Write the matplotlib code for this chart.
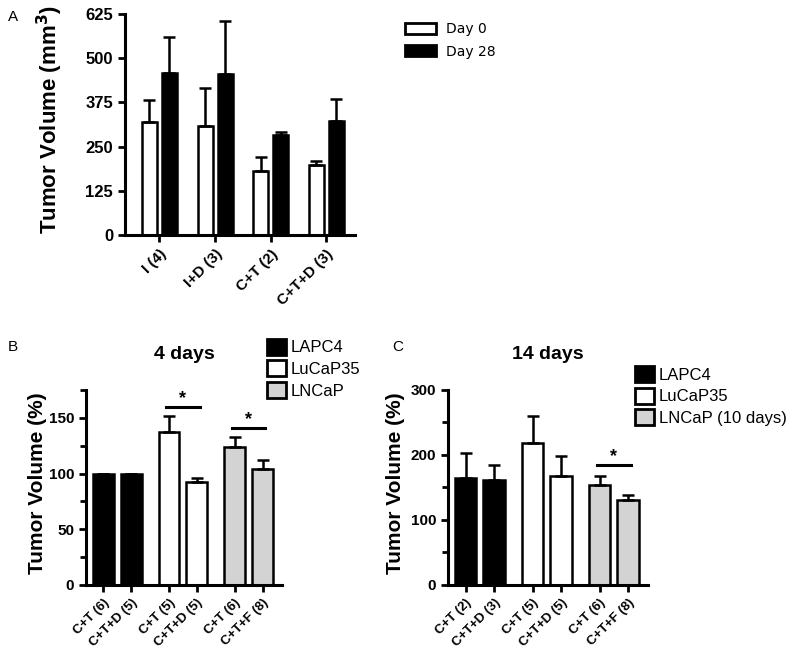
import matplotlib
matplotlib.use("Agg")
import matplotlib.pyplot as plt
import numpy as np
from matplotlib.patches import Patch
from matplotlib.ticker import MultipleLocator

plt.rcParams['font.family'] = ['Liberation Sans', 'DejaVu Sans']

# panel A data
a_groups = ["I (4)", "I+D (3)", "C+T (2)", "C+T+D (3)"]
a_day0 = [320, 308, 182, 199]
a_day0_err = [61, 109, 38, 9]
a_day28 = [457, 455, 284, 323]
a_day28_err = [102, 151, 8, 62]

# panel B data (4 days)
b_labels = ["C+T (6)", "C+T+D (5)", "C+T (5)", "C+T+D (5)", "C+T (6)", "C+T+F (8)"]
b_values = [100, 100, 137, 92, 124, 104.5]
b_err = [0, 0, 15, 4, 8.5, 7.5]

# panel C data (14 days)
c_labels = ["C+T (2)", "C+T+D (3)", "C+T (5)", "C+T+D (5)", "C+T (6)", "C+T+F (8)"]
c_values = [164, 162, 218, 167, 154, 130]
c_err = [39, 23, 42, 32, 13, 8]

bar_colors = ["black", "black", "white", "white", "#d3d3d3", "#d3d3d3"]
pos = [0, 1, 2.36, 3.36, 4.72, 5.72]

fig = plt.figure(figsize=(8, 6.51), dpi=100)


def style_axes(ax):
    for s in ["top", "right"]:
        ax.spines[s].set_visible(False)
    for s in ["left", "bottom"]:
        ax.spines[s].set_linewidth(2.2)
    ax.tick_params(which="major", direction="out", width=2, length=5)
    ax.tick_params(which="minor", direction="out", width=2, length=4)


# ---- Panel A ----
axA = fig.add_axes([0.15625, 0.639, 0.2875, 0.3395])
x = np.arange(len(a_groups))
w = 0.27
axA.bar(x - 0.18, a_day0, w, color="white", edgecolor="black", linewidth=1.8,
        yerr=[np.zeros(4), a_day0_err], error_kw=dict(ecolor="black", elinewidth=1.8, capsize=4, capthick=1.8),
        label="Day 0")
axA.bar(x + 0.18, a_day28, w, color="black", edgecolor="black", linewidth=1.8,
        yerr=[np.zeros(4), a_day28_err], error_kw=dict(ecolor="black", elinewidth=1.8, capsize=4, capthick=1.8),
        label="Day 28")
axA.set_xlim(-0.62, 3.52)
axA.set_ylim(0, 625)
axA.set_yticks([0, 125, 250, 375, 500, 625])
axA.set_xticks(x)
axA.set_xticklabels(a_groups, rotation=45, ha="right", rotation_mode="anchor", fontweight="bold", fontsize=11)
for t in axA.get_yticklabels():
    t.set_fontweight("bold")
    t.set_fontsize(12)
axA.set_ylabel("Tumor Volume (mm$^\\mathbf{3}$)", fontsize=16, fontweight="bold")
axA.yaxis.set_label_coords(-0.26, 0.52)
style_axes(axA)
fig.legend(handles=[Patch(facecolor="white", edgecolor="black", linewidth=2, label="Day 0"),
                    Patch(facecolor="black", edgecolor="black", linewidth=2, label="Day 28")],
           loc="upper left", bbox_to_anchor=(0.49, 0.985), frameon=False,
           handlelength=2.3, handleheight=0.8, labelspacing=0.6, handletextpad=0.7,
           prop={"family": "DejaVu Sans", "size": 10})


def panel(rect, labels, values, err, ylim, major, minor, title, sig, legend_labels, legend_anchor, lab_x):
    ax = fig.add_axes(rect)
    ax.bar(pos, values, 0.75, color=bar_colors, edgecolor="black", linewidth=1.8)
    ax.errorbar(pos, values, yerr=[np.zeros(len(err)), err], fmt="none", ecolor="black",
                elinewidth=1.8, capsize=4, capthick=1.8)
    ax.set_xlim(-0.62, 6.42)
    ax.set_ylim(0, ylim)
    ax.yaxis.set_major_locator(MultipleLocator(major))
    ax.yaxis.set_minor_locator(MultipleLocator(minor))
    ax.set_xticks(pos)
    ax.set_xticklabels(labels, rotation=45, ha="right", rotation_mode="anchor", fontweight="bold", fontsize=9.5)
    for t in ax.get_yticklabels():
        t.set_fontsize(11)
        t.set_fontweight("bold")
    ax.set_ylabel("Tumor Volume (%)", fontsize=15, fontweight="bold")
    ax.yaxis.set_label_coords(lab_x, 0.52)
    ax.set_title(title, fontsize=14, fontweight="bold", pad=22)
    style_axes(ax)
    for i, j, yy in sig:
        ax.plot([pos[i] - 0.1, pos[j] + 0.1], [yy, yy], color="black", lw=2.2)
        ax.text((pos[i] + pos[j]) / 2, yy, "*", ha="center", va="bottom", fontsize=13, fontweight="bold")
    handles = [Patch(facecolor=c, edgecolor="black", linewidth=2, label=l)
               for c, l in zip(["black", "white", "#d3d3d3"], legend_labels)]
    fig.legend(handles=handles, loc="upper left", bbox_to_anchor=legend_anchor, frameon=False,
               fontsize=12, handlelength=1.1, handleheight=1.1, labelspacing=0.3, handletextpad=0.3,
               borderaxespad=0)
    return ax


panel([0.1075, 0.1014, 0.245, 0.2996], b_labels, b_values, b_err, 175, 50, 25, "4 days",
      [(2, 3, 160), (4, 5, 141)], ["LAPC4", "LuCaP35", "LNCaP"], (0.326, 0.49), -0.2)
panel([0.56, 0.1014, 0.25, 0.2996], c_labels, c_values, c_err, 300, 100, 50, "14 days",
      [(4, 5, 185)], ["LAPC4", "LuCaP35", "LNCaP (10 days)"], (0.786, 0.448), -0.215)

fig.text(0.01, 0.985, "A", fontsize=11, va="top")
fig.text(0.01, 0.478, "B", fontsize=11, va="top")
fig.text(0.49, 0.478, "C", fontsize=11, va="top")

fig.savefig("out.png", dpi=100)
